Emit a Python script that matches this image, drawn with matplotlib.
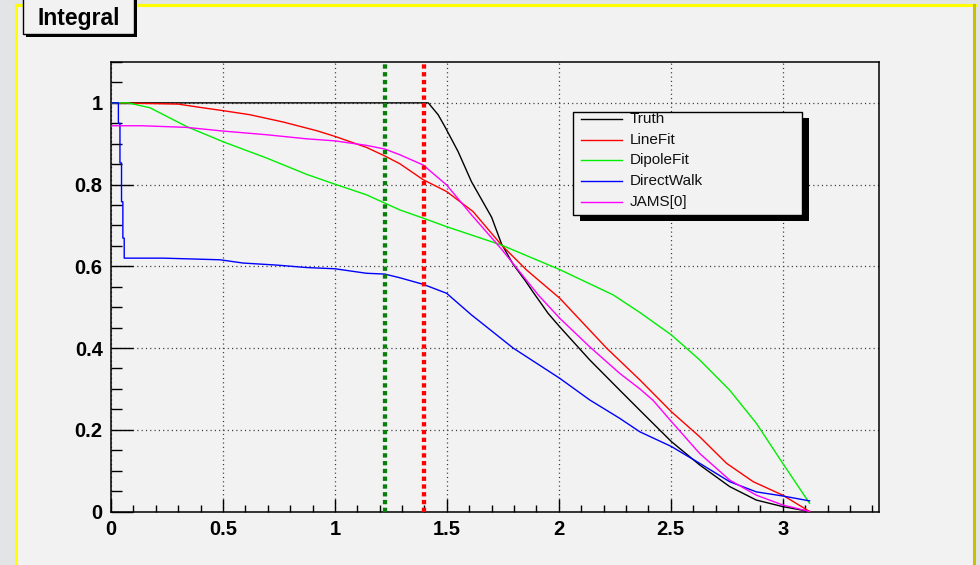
import numpy as np
import matplotlib
matplotlib.use("Agg")
import matplotlib.pyplot as plt
from matplotlib.patches import Rectangle
from matplotlib.lines import Line2D
from matplotlib.ticker import MultipleLocator, FormatStrFormatter

plt.rcParams['lines.scale_dashes'] = False
plt.rcParams['font.family'] = ['Liberation Sans', 'DejaVu Sans']

# ---------------- data ----------------
title = "Integral"
series_names = ["Truth", "LineFit", "DipoleFit", "DirectWalk", "JAMS[0]"]
series_colors = ["#000000", "#ff0000", "#00ee00", "#0000ff", "#ff00ff"]

truth_x = [0.0, 0.5, 1.0, 1.417, 1.461, 1.491, 1.55, 1.61, 1.70, 1.744, 1.796, 1.85,
           1.885, 1.952, 2.004, 2.138, 2.272, 2.376, 2.503, 2.629, 2.763, 2.882, 3.0, 3.12]
truth_y = [1.0, 1.0, 1.0, 1.0, 0.971, 0.942, 0.881, 0.807, 0.72, 0.655, 0.605, 0.565,
           0.537, 0.485, 0.452, 0.371, 0.297, 0.24, 0.171, 0.114, 0.061, 0.028, 0.012, 0.0]

linefit_x = [0.0, 0.30, 0.397, 0.50, 0.62, 0.77, 0.918, 1.0, 1.141, 1.223, 1.29, 1.394,
             1.499, 1.617, 1.744, 1.856, 2.004, 2.213, 2.362, 2.503, 2.629, 2.749, 2.868, 3.0, 3.12]
linefit_y = [1.0, 0.997, 0.989, 0.981, 0.971, 0.953, 0.932, 0.918, 0.891, 0.870, 0.851, 0.812,
             0.783, 0.734, 0.652, 0.591, 0.522, 0.40, 0.322, 0.244, 0.183, 0.118, 0.073, 0.040, 0.0]

dipolefit_x = [0.0, 0.077, 0.174, 0.338, 0.50, 0.695, 0.874, 1.0, 1.141, 1.29, 1.394, 1.499,
               1.744, 2.004, 2.243, 2.362, 2.503, 2.629, 2.763, 2.882, 3.0, 3.12]
dipolefit_y = [1.0, 1.0, 0.988, 0.942, 0.905, 0.865, 0.825, 0.801, 0.775, 0.738, 0.718, 0.697,
               0.652, 0.592, 0.530, 0.487, 0.432, 0.371, 0.297, 0.216, 0.118, 0.020]

directwalk_x = [0.0, 0.033, 0.033, 0.040, 0.040, 0.047, 0.047, 0.053, 0.053, 0.059, 0.059,
                0.234, 0.487, 0.59, 0.74, 0.874, 1.0, 1.141, 1.223, 1.29, 1.394, 1.499, 1.61,
                1.647, 1.796, 2.004, 2.138, 2.272, 2.362, 2.503, 2.629, 2.763, 2.882, 3.0, 3.12]
directwalk_y = [1.0, 1.0, 0.950, 0.950, 0.853, 0.853, 0.758, 0.758, 0.669, 0.669, 0.620,
                0.620, 0.616, 0.608, 0.603, 0.597, 0.594, 0.583, 0.581, 0.572, 0.556, 0.534, 0.481,
                0.465, 0.40, 0.326, 0.273, 0.228, 0.195, 0.159, 0.118, 0.073, 0.048, 0.038, 0.026]

jams_x = [0.0, 0.137, 0.338, 0.50, 0.695, 0.874, 1.0, 1.141, 1.223, 1.29, 1.394, 1.499, 1.61,
          1.744, 1.826, 1.908, 2.004, 2.138, 2.272, 2.362, 2.421, 2.503, 2.629, 2.763, 2.882, 3.0, 3.12]
jams_y = [0.944, 0.944, 0.940, 0.931, 0.922, 0.912, 0.907, 0.896, 0.887, 0.873, 0.848, 0.799, 0.726,
          0.642, 0.586, 0.530, 0.473, 0.403, 0.338, 0.30, 0.272, 0.22, 0.142, 0.077, 0.040, 0.016, 0.0]

cut_values = [1.2217, 1.3963]          # 70 deg, 80 deg in radians
cut_colors = ["#0a7d0a", "#ff0000"]

x_range = [0.0, 3.43]
y_range = [0.0, 1.1]

# ---------------- figure ----------------
W, H = 980, 565
fig = plt.figure(figsize=(W / 100, H / 100), dpi=100)
fig.patch.set_facecolor("#e3e4e6")

def fx(x):
    return x / W

def fy(y):
    return 1 - y / H

panel_col = "#f2f2f2"
fig.patches.append(Rectangle((fx(16), fy(565)), fx(974) - fx(16), fy(5) - fy(565),
                             transform=fig.transFigure, facecolor=panel_col, edgecolor="none", zorder=-5))
fig.lines.append(Line2D([fx(16), fx(975)], [fy(5), fy(5)], transform=fig.transFigure,
                        color="#ffff00", lw=2.2, zorder=1))
fig.lines.append(Line2D([fx(16), fx(16)], [fy(5), fy(565)], transform=fig.transFigure,
                        color="#ffff00", lw=2.2, zorder=1))
fig.lines.append(Line2D([fx(974), fx(974)], [fy(5), fy(565)], transform=fig.transFigure,
                        color="#c8c000", lw=2.2, zorder=1))

# title box with shadow
fig.patches.append(Rectangle((fx(26), fy(37)), fx(137) - fx(26), fy(-3) - fy(37),
                             transform=fig.transFigure, facecolor="black", edgecolor="none", zorder=2))
fig.patches.append(Rectangle((fx(23), fy(34)), fx(134) - fx(23), fy(-6) - fy(34),
                             transform=fig.transFigure, facecolor=panel_col, edgecolor="black",
                             lw=1.0, zorder=3))
fig.text(fx(79), fy(18), title, ha="center", va="center", fontsize=16.5,
         fontweight="bold", color="black", zorder=4)

# axes
ax = fig.add_axes([fx(111), fy(511.5), fx(879) - fx(111), fy(62) - fy(511.5)])
ax.set_zorder(2)
ax.set_facecolor(panel_col)
ax.set_xlim(*x_range)
ax.set_ylim(*y_range)

ax.xaxis.set_major_locator(MultipleLocator(0.5))
ax.xaxis.set_minor_locator(MultipleLocator(0.1))
ax.yaxis.set_major_locator(MultipleLocator(0.2))
ax.yaxis.set_minor_locator(MultipleLocator(0.05))
ax.xaxis.set_major_formatter(FormatStrFormatter('%g'))
ax.yaxis.set_major_formatter(FormatStrFormatter('%g'))

ax.tick_params(axis='x', which='major', direction='in', length=9.5, width=1.0, pad=6,
               labelsize=14.5, top=False)
ax.tick_params(axis='x', which='minor', direction='in', length=5, width=1.0, top=False)
ax.tick_params(axis='y', which='major', direction='in', length=16, width=1.0, pad=6,
               labelsize=14.5, right=False)
ax.tick_params(axis='y', which='minor', direction='in', length=8, width=1.0, right=False)
for lab in ax.get_xticklabels() + ax.get_yticklabels():
    lab.set_fontweight('bold')
for sp in ax.spines.values():
    sp.set_linewidth(1.1)
    sp.set_color("black")

ax.grid(True, which='major', color='#333333', linestyle=(0, (0.8, 2.3)), lw=0.9)
ax.set_axisbelow(True)

xs = [truth_x, linefit_x, dipolefit_x, directwalk_x, jams_x]
ys = [truth_y, linefit_y, dipolefit_y, directwalk_y, jams_y]
handles = []
for xv, yv, name, col in zip(xs, ys, series_names, series_colors):
    ln, = ax.plot(xv, yv, color=col, lw=1.0, label=name, zorder=3)
    handles.append(ln)

for cv, cc in zip(cut_values, cut_colors):
    ax.axvline(cv, color=cc, lw=3.1, linestyle=(0, (3.1, 2.5)), dash_capstyle='butt', zorder=4)

# legend (manual, ROOT style with shadow)
lx0, lx1, ly0, ly1 = 572.7, 802, 111.7, 215
fig.patches.append(Rectangle((fx(lx0 + 7), fy(ly1 + 6)), fx(lx1) - fx(lx0), fy(ly0) - fy(ly1),
                             transform=fig.transFigure, facecolor="black", edgecolor="none", zorder=5))
fig.patches.append(Rectangle((fx(lx0), fy(ly1)), fx(lx1) - fx(lx0), fy(ly0) - fy(ly1),
                             transform=fig.transFigure, facecolor=panel_col, edgecolor="black",
                             lw=1.0, zorder=6))
entry_y = [119, 139.5, 160, 181, 202]
for h, yy in zip(handles, entry_y):
    fig.lines.append(Line2D([fx(581), fx(622)], [fy(yy), fy(yy)], transform=fig.transFigure,
                            color=h.get_color(), lw=1.0, zorder=7))
    fig.text(fx(630), fy(yy), h.get_label(), ha="left", va="center", fontsize=11,
             color="#111111", zorder=7)

fig.savefig("out.png", dpi=100, facecolor=fig.get_facecolor())
